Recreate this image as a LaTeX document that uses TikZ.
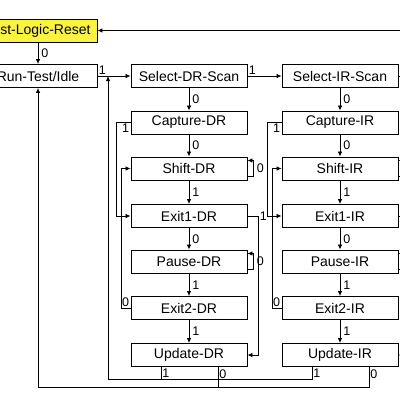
\documentclass[tikz,border=0pt]{standalone}
\usepackage{fontspec}
\setmainfont{Liberation Sans}
\usetikzlibrary{arrows.meta}
\definecolor{tlry}{RGB}{250,245,60}
\begin{document}
\begin{tikzpicture}[x=1pt,y=-1pt,
  box/.style={draw=black, line width=0.9pt, minimum width=116pt, minimum height=23pt, inner sep=0pt, font=\fontsize{14}{16}\selectfont},
  wire/.style={draw=black, line width=0.8pt},
  arr/.style={wire, -{Latex[length=5pt,width=4.5pt]}},
  lbl/.style={font=\fontsize{12.5}{14}\selectfont, inner sep=1pt}]
\useasboundingbox (0,0) rectangle (400,400);
\fill[white] (0,0) rectangle (400,400);
\clip (0,0) rectangle (400,400);

% left column
\node[box, fill=tlry, minimum width=118pt] (tlr) at (38,30.5) {Test-Logic-Reset};
\node[box, minimum width=118pt] (rti) at (38,76) {Run-Test/Idle};

% DR column
\node[box] (sdr)  at (189,76)    {Select-DR-Scan};
\node[box] (cdr)  at (189,122.5) {Capture-DR};
\node[box] (shdr) at (189,168.5) {Shift-DR};
\node[box] (e1dr) at (189,216)   {Exit1-DR};
\node[box] (pdr)  at (189,261.5) {Pause-DR};
\node[box] (e2dr) at (189,308)   {Exit2-DR};
\node[box] (udr)  at (189,355)   {Update-DR};

% IR column
\node[box] (sir)  at (340,76)    {Select-IR-Scan};
\node[box] (cir)  at (340,122.5) {Capture-IR};
\node[box] (shir) at (340,168.5) {Shift-IR};
\node[box] (e1ir) at (340,216)   {Exit1-IR};
\node[box] (pir)  at (340,261.5) {Pause-IR};
\node[box] (e2ir) at (340,308)   {Exit2-IR};
\node[box] (uir)  at (340,355)   {Update-IR};

\coordinate (j1) at (108,76);

% top row
\draw[arr] (tlr) -- node[lbl, right, xshift=2pt]{0} (rti);
\draw[arr] (rti.east) -- node[lbl, pos=0, above right]{1} (sdr.west);
\draw[arr] (sdr.east) -- node[lbl, pos=0, above right]{1} (sir.west);
\draw[arr] (sir.east) -- ++(14,0) |- (tlr.east);

% DR verticals
\draw[arr] (sdr) -- node[lbl, right, xshift=2pt]{0} (cdr);
\draw[arr] (cdr) -- node[lbl, right, xshift=2pt]{0} (shdr);
\draw[arr] (shdr) -- node[lbl, right, xshift=2pt]{1} (e1dr);
\draw[arr] (e1dr) -- node[lbl, right, xshift=2pt]{0} (pdr);
\draw[arr] (pdr) -- node[lbl, right, xshift=2pt]{1} (e2dr);
\draw[arr] (e2dr) -- node[lbl, right, xshift=2pt]{1} (udr);

% IR verticals
\draw[arr] (sir) -- node[lbl, right, xshift=2pt]{0} (cir);
\draw[arr] (cir) -- node[lbl, right, xshift=2pt]{0} (shir);
\draw[arr] (shir) -- node[lbl, right, xshift=2pt]{1} (e1ir);
\draw[arr] (e1ir) -- node[lbl, right, xshift=2pt]{0} (pir);
\draw[arr] (pir) -- node[lbl, right, xshift=2pt]{1} (e2ir);
\draw[arr] (e2ir) -- node[lbl, right, xshift=2pt]{1} (uir);

% DR left loops
\draw[arr] (cdr.west) node[lbl, anchor=north east]{1} -- ++(-14,0) |- (e1dr.west);
\draw[arr] (e2dr.west) node[lbl, anchor=south east]{0} -- ++(-9,0) |- (shdr.west);
% IR left loops
\draw[arr] (cir.west) node[lbl, anchor=north east]{1} -- ++(-14,0) |- (e1ir.west);
\draw[arr] (e2ir.west) node[lbl, anchor=south east]{0} -- ++(-9,0) |- (shir.west);

% DR self loops and exit1 -> update
\draw[arr] ([yshift=-8pt]shdr.east) -- ++(6,0) |- node[lbl, pos=0.25, right, xshift=2pt]{0} ([yshift=8pt]shdr.east);
\draw[arr] ([yshift=-8pt]pdr.east) -- ++(6,0) |- node[lbl, pos=0.25, right, xshift=2pt]{0} ([yshift=8pt]pdr.east);
\draw[arr] (e1dr.east) -- ++(11,0) node[lbl, right]{1} |- (udr.east);
% IR self loops and exit1 -> update
\draw[arr] ([yshift=-8pt]shir.east) -- ++(6,0) |- ([yshift=8pt]shir.east);
\draw[arr] ([yshift=-8pt]pir.east) -- ++(6,0) |- ([yshift=8pt]pir.east);
\draw[arr] (e1ir.east) -- ++(11,0) |- (uir.east);

% update buses
\draw[arr] ([xshift=-28pt]uir.south) -- node[lbl, right]{1} ++(0,12.5) -| (j1);
\draw[wire] ([xshift=-28pt]udr.south) -- node[lbl, right]{1} ++(0,12.5);
\draw[arr] ([xshift=29pt]uir.south) -- node[lbl, right, pos=0.35]{0} ++(0,20.5) -| (rti.south);
\draw[wire] ([xshift=29pt]udr.south) -- node[lbl, right, pos=0.35]{0} ++(0,20.5);
\end{tikzpicture}
\end{document}
